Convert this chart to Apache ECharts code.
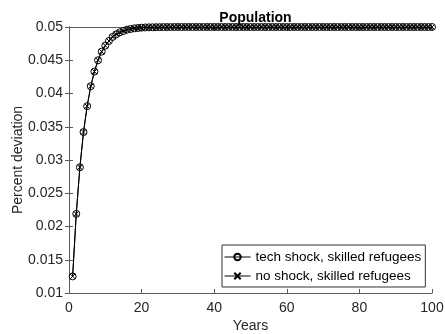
<!DOCTYPE html>
<html><head><meta charset="utf-8">
<script src="https://cdn.jsdelivr.net/npm/echarts@6/dist/echarts.min.js"></script>
<style>html,body{margin:0;padding:0;background:#fff}#c{width:445px;height:334px}</style>
</head><body><div id="c"></div>
<script>
const years = [1,2,3,4,5,6,7,8,9,10,11,12,13,14,15,16,17,18,19,20,21,22,23,24,25,26,27,28,29,30,31,32,33,34,35,36,37,38,39,40,41,42,43,44,45,46,47,48,49,50,51,52,53,54,55,56,57,58,59,60,61,62,63,64,65,66,67,68,69,70,71,72,73,74,75,76,77,78,79,80,81,82,83,84,85,86,87,88,89,90,91,92,93,94,95,96,97,98,99,100];
const techShock = [0.0125,0.0219,0.0289,0.0342,0.0381,0.0411,0.0433,0.0450,0.0463,0.0472,0.0479,0.0485,0.0489,0.0492,0.0494,0.0496,0.0497,0.0498,0.04985,0.0499,0.04993,0.04995,0.04996,0.04997,0.04998,0.04999,0.04999,0.04999,0.05,0.05,0.05,0.05,0.05,0.05,0.05,0.05,0.05,0.05,0.05,0.05,0.05,0.05,0.05,0.05,0.05,0.05,0.05,0.05,0.05,0.05,0.05,0.05,0.05,0.05,0.05,0.05,0.05,0.05,0.05,0.05,0.05,0.05,0.05,0.05,0.05,0.05,0.05,0.05,0.05,0.05,0.05,0.05,0.05,0.05,0.05,0.05,0.05,0.05,0.05,0.05,0.05,0.05,0.05,0.05,0.05,0.05,0.05,0.05,0.05,0.05,0.05,0.05,0.05,0.05,0.05,0.05,0.05,0.05,0.05,0.05];
const noShock = techShock.slice();
const xTicks = [0,20,40,60,80,100];
const yTicks = [0.01,0.015,0.02,0.025,0.03,0.035,0.04,0.045,0.05];
const seriesNames = ['tech shock, skilled refugees','no shock, skilled refugees'];

const axisCol = '#5a5a5a';
const labelCol = '#262626';
const font = 'Liberation Sans, Arial, sans-serif';
const xMark = 'path://M0,0L10,10M10,0L0,10';

const chart = echarts.init(document.getElementById('c'));
chart.setOption({
  animation: false,
  title: { text: 'Population', left: 250.5, textAlign: 'center', top: 6,
    textStyle: { fontFamily: font, fontSize: 14, fontWeight: 'bold', color: '#000' } },
  grid: { left: 69, right: 13, top: 27, bottom: 41, outerBoundsMode: 'none', containLabel: false },
  legend: {
    left: 222, top: 245, orient: 'vertical', itemWidth: 26, itemHeight: 8, itemGap: 5,
    padding: [5, 4, 4, 2], backgroundColor: '#fff', borderColor: '#333', borderWidth: 1,
    textStyle: { fontFamily: font, fontSize: 13.5, color: '#000' },
    lineStyle: { width: 1 },
    data: seriesNames
  },
  xAxis: [{
    type: 'value', min: 0, max: 100, interval: 20, position: 'bottom',
    name: 'Years', nameLocation: 'middle', nameGap: 26, nameMoveOverlap: false,
    nameTextStyle: { fontFamily: font, fontSize: 14, color: labelCol },
    axisLine: { show: true, lineStyle: { color: axisCol, width: 1 } },
    axisTick: { show: true, inside: true, length: 4, lineStyle: { color: axisCol } },
    axisLabel: { fontFamily: font, fontSize: 14, color: labelCol, margin: 8 },
    splitLine: { show: false }
  }, {
    type: 'value', min: 0, max: 100, interval: 20, position: 'top',
    axisLine: { show: true, lineStyle: { color: axisCol, width: 1 } },
    axisTick: { show: true, inside: true, length: 4, lineStyle: { color: axisCol } },
    axisLabel: { show: false }, splitLine: { show: false }
  }],
  yAxis: [{
    type: 'value', min: 0.01, max: 0.05, interval: 0.005, position: 'left',
    name: 'Percent deviation', nameLocation: 'middle', nameGap: 44, nameMoveOverlap: false,
    nameTextStyle: { fontFamily: font, fontSize: 14, color: labelCol },
    axisLine: { show: true, lineStyle: { color: axisCol, width: 1 } },
    axisTick: { show: true, inside: true, length: 4, lineStyle: { color: axisCol } },
    axisLabel: { fontFamily: font, fontSize: 14, color: labelCol, margin: 6,
      formatter: v => String(+v.toFixed(3)) },
    splitLine: { show: false }
  }, {
    type: 'value', min: 0.01, max: 0.05, interval: 0.005, position: 'right',
    axisLine: { show: true, lineStyle: { color: axisCol, width: 1 } },
    axisTick: { show: true, inside: true, length: 4, lineStyle: { color: axisCol } },
    axisLabel: { show: false }, splitLine: { show: false }
  }],
  series: [{
    name: seriesNames[1], type: 'line', xAxisIndex: 0, yAxisIndex: 0,
    data: years.map((y, i) => [y, noShock[i]]),
    symbol: xMark, symbolSize: 5, showAllSymbol: true,
    lineStyle: { color: '#000', width: 1 },
    itemStyle: { color: 'none', borderColor: '#000', borderWidth: 1 }
  }, {
    name: seriesNames[0], type: 'line', xAxisIndex: 0, yAxisIndex: 0,
    data: years.map((y, i) => [y, techShock[i]]),
    symbol: 'circle', symbolSize: 7, showAllSymbol: true,
    lineStyle: { color: '#000', width: 1 },
    itemStyle: { color: 'none', borderColor: '#000', borderWidth: 1 }
  }]
});
</script></body></html>
